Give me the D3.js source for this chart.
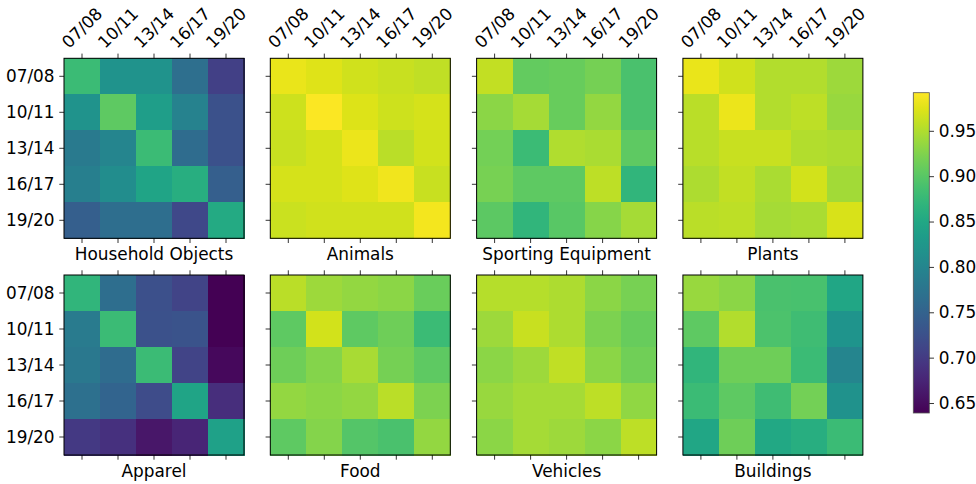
<!DOCTYPE html>
<html>
<head>
<meta charset="utf-8">
<script src="https://cdn.jsdelivr.net/npm/d3@7"></script>
<style>
  html, body { margin: 0; padding: 0; background: #fff; }
  svg text { font-family: "DejaVu Sans", sans-serif; fill: #000; }
</style>
</head>
<body>
<svg id="chart" width="976" height="484"></svg>
<script>
// Season labels shared by rows and columns
const seasons = ["07/08", "10/11", "13/14", "16/17", "19/20"];

// Similarity matrices per category (row season x column season)
const householdObjects = [
  [0.879, 0.820, 0.820, 0.766, 0.706],
  [0.820, 0.904, 0.835, 0.795, 0.727],
  [0.783, 0.800, 0.880, 0.763, 0.727],
  [0.790, 0.810, 0.845, 0.860, 0.745],
  [0.745, 0.765, 0.765, 0.715, 0.853]
];
const animals = [
  [0.980, 0.975, 0.967, 0.962, 0.958],
  [0.965, 0.990, 0.973, 0.965, 0.969],
  [0.963, 0.969, 0.982, 0.955, 0.968],
  [0.969, 0.969, 0.975, 0.985, 0.963],
  [0.964, 0.966, 0.966, 0.967, 0.986]
];
const sportingEquipment = [
  [0.960, 0.907, 0.910, 0.918, 0.890],
  [0.930, 0.945, 0.910, 0.935, 0.890],
  [0.917, 0.880, 0.950, 0.947, 0.905],
  [0.920, 0.905, 0.905, 0.957, 0.870],
  [0.903, 0.870, 0.900, 0.928, 0.945]
];
const plants = [
  [0.980, 0.966, 0.952, 0.952, 0.940],
  [0.955, 0.982, 0.952, 0.957, 0.937],
  [0.954, 0.962, 0.962, 0.951, 0.948],
  [0.949, 0.959, 0.947, 0.968, 0.943],
  [0.955, 0.957, 0.945, 0.947, 0.971]
];
const apparel = [
  [0.870, 0.765, 0.725, 0.710, 0.640],
  [0.785, 0.880, 0.727, 0.730, 0.640],
  [0.780, 0.762, 0.880, 0.710, 0.647],
  [0.768, 0.752, 0.720, 0.845, 0.685],
  [0.697, 0.688, 0.660, 0.675, 0.840]
];
const food = [
  [0.955, 0.940, 0.935, 0.930, 0.912],
  [0.905, 0.968, 0.905, 0.914, 0.880],
  [0.914, 0.926, 0.946, 0.918, 0.905],
  [0.935, 0.930, 0.935, 0.955, 0.922],
  [0.905, 0.926, 0.898, 0.890, 0.935]
];
const vehicles = [
  [0.953, 0.953, 0.948, 0.930, 0.920],
  [0.940, 0.963, 0.948, 0.922, 0.910],
  [0.930, 0.940, 0.958, 0.930, 0.915],
  [0.938, 0.944, 0.944, 0.957, 0.934],
  [0.930, 0.944, 0.940, 0.930, 0.957]
];
const buildings = [
  [0.937, 0.930, 0.890, 0.889, 0.848],
  [0.905, 0.952, 0.892, 0.882, 0.822],
  [0.870, 0.914, 0.914, 0.880, 0.800],
  [0.880, 0.905, 0.882, 0.917, 0.818],
  [0.848, 0.914, 0.850, 0.860, 0.880]
];

const panels = [
  { title: "Household Objects", values: householdObjects },
  { title: "Animals", values: animals },
  { title: "Sporting Equipment", values: sportingEquipment },
  { title: "Plants", values: plants },
  { title: "Apparel", values: apparel },
  { title: "Food", values: food },
  { title: "Vehicles", values: vehicles },
  { title: "Buildings", values: buildings }
];

// Colour bar range and ticks
const colorDomain = [0.639, 0.992];
const colorTicks = [0.65, 0.70, 0.75, 0.80, 0.85, 0.90, 0.95];

const svg = d3.select("#chart");
const fontSize = 16.9;
const tickLen = 4.7;
const pad = 4.7;

const color = d3.scaleSequential(d3.interpolateViridis).domain(colorDomain);

const panelSize = 180;
const colX = d3.scalePoint().domain([0, 1, 2, 3]).range([64, 682.9]);
const rowY = d3.scalePoint().domain([0, 1]).range([58.3, 275]);

const band = d3.scaleBand().domain(seasons).range([0, panelSize]);

panels.forEach((p, i) => {
  const col = i % 4, row = Math.floor(i / 4);
  const g = svg.append("g").attr("transform", `translate(${colX(col)},${rowY(row)})`);

  // cells
  p.values.forEach((r, ri) => {
    g.selectAll(null).data(r).enter().append("rect")
      .attr("x", (d, ci) => band(seasons[ci]))
      .attr("y", band(seasons[ri]))
      .attr("width", band.bandwidth() + 0.5)
      .attr("height", band.bandwidth() + 0.5)
      .attr("fill", d => color(d))
      .attr("shape-rendering", "crispEdges");
  });

  // ticks: top, bottom, left
  const centers = seasons.map(s => band(s) + band.bandwidth() / 2);
  g.selectAll(null).data(centers).enter().append("line")
    .attr("x1", d => d).attr("x2", d => d).attr("y1", 0).attr("y2", -tickLen)
    .attr("stroke", "#000").attr("stroke-width", 0.8);
  g.selectAll(null).data(centers).enter().append("line")
    .attr("x1", d => d).attr("x2", d => d).attr("y1", panelSize).attr("y2", panelSize + tickLen)
    .attr("stroke", "#000").attr("stroke-width", 0.8);
  g.selectAll(null).data(centers).enter().append("line")
    .attr("y1", d => d).attr("y2", d => d).attr("x1", 0).attr("x2", -tickLen)
    .attr("stroke", "#000").attr("stroke-width", 0.8);

  // frame
  g.append("rect").attr("width", panelSize).attr("height", panelSize)
    .attr("fill", "none").attr("stroke", "#000").attr("stroke-width", 1);

  // rotated top labels for the first row
  if (row === 0) {
    seasons.forEach(s => {
      const t = g.append("text")
        .attr("font-size", fontSize)
        .attr("text-anchor", "middle")
        .attr("dominant-baseline", "central")
        .text(s);
      const w = t.node().getComputedTextLength();
      const h = fontSize * 1.16;
      const half = (w + h) * Math.SQRT1_2 / 2;
      const cx = band(s) + band.bandwidth() / 2;
      const cy = -tickLen - pad - half + 3;
      t.attr("transform", `translate(${cx},${cy}) rotate(-45)`);
    });
  }

  // row labels for the first column
  if (col === 0) {
    g.selectAll(null).data(seasons).enter().append("text")
      .attr("font-size", fontSize)
      .attr("text-anchor", "end")
      .attr("dominant-baseline", "central")
      .attr("x", -tickLen - pad)
      .attr("y", d => band(d) + band.bandwidth() / 2)
      .text(d => d);
  }

  // category title below
  g.append("text")
    .attr("font-size", fontSize)
    .attr("text-anchor", "middle")
    .attr("x", panelSize / 2)
    .attr("y", panelSize + 21.5)
    .text(p.title);
});

// colour bar
const cbX = 913.3, cbW = 16, cbTop = 92.7, cbBottom = 413;
const cbScale = d3.scaleLinear().domain(colorDomain).range([cbBottom, cbTop]);
const defs = svg.append("defs");
const grad = defs.append("linearGradient").attr("id", "cbgrad")
  .attr("x1", 0).attr("y1", 1).attr("x2", 0).attr("y2", 0);
d3.range(0, 1.0001, 0.05).forEach(t => {
  grad.append("stop").attr("offset", t).attr("stop-color", d3.interpolateViridis(t));
});
svg.append("rect")
  .attr("x", cbX).attr("y", cbTop).attr("width", cbW).attr("height", cbBottom - cbTop)
  .attr("fill", "url(#cbgrad)")
  .attr("stroke", "#555").attr("stroke-width", 0.8);

const cbAxis = svg.append("g").attr("transform", `translate(${cbX + cbW},0)`)
  .call(d3.axisRight(cbScale).tickValues(colorTicks).tickFormat(d3.format(".2f"))
    .tickSize(tickLen).tickPadding(pad));
cbAxis.select(".domain").remove();
cbAxis.selectAll("line").attr("stroke", "#000").attr("stroke-width", 0.8);
cbAxis.selectAll("text").attr("font-size", fontSize).attr("font-family", "DejaVu Sans, sans-serif").attr("fill", "#000");
</script>
</body>
</html>
